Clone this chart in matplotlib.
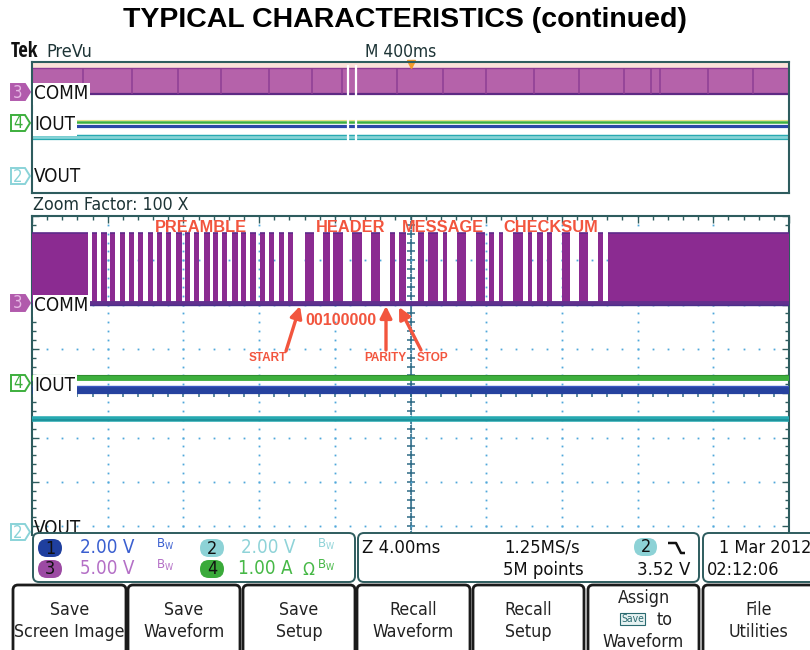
import matplotlib
matplotlib.use('Agg')
import matplotlib.pyplot as plt
from matplotlib import font_manager as fm
from matplotlib.font_manager import FontProperties
from matplotlib.patches import FancyBboxPatch, Polygon
from matplotlib.transforms import Bbox, IdentityTransform, TransformedBbox
import numpy as np

# ---------------- data ----------------
title = "TYPICAL CHARACTERISTICS (continued)"
zoom_ms_per_div = 4.0          # Z 4.00ms
overview_s_per_div = 0.4       # M 400ms
n_hdiv = 10

# COMM (ch3) high bursts in the 100x zoom window, ms from left edge
comm_high_start = [0.00, 3.17, 3.65, 4.12, 4.65, 5.12, 5.60, 6.13, 6.60, 7.08, 7.61,
                   8.08, 8.56, 9.09, 9.56, 10.04, 10.57, 11.04, 11.52, 12.04, 12.52,
                   13.05, 13.52, 14.42, 15.37, 15.90, 16.90, 17.91, 18.91, 19.39,
                   20.39, 20.92, 21.71, 22.45, 23.45, 24.14, 24.67, 25.41, 26.20,
                   26.68, 27.21, 28.00, 28.90, 29.90, 30.43]
comm_high_end = [2.96, 3.46, 3.94, 4.41, 4.94, 5.41, 5.89, 6.42, 6.89, 7.37, 7.90,
                 8.37, 8.85, 9.38, 9.85, 10.33, 10.86, 11.33, 11.81, 12.33, 12.81,
                 13.34, 13.81, 14.90, 15.74, 16.43, 17.43, 18.38, 19.18, 19.76,
                 20.71, 21.45, 21.92, 22.93, 23.93, 24.41, 24.88, 25.94, 26.41,
                 26.99, 27.47, 28.42, 29.37, 30.16, 40.00]

# trace levels (graticule divisions from centre)
comm_low_div = 2.04
comm_high_div = 3.62
iout_div = 0.35
ch1_div = 0.07
vout_div = -0.58

# message bursts visible in the 4 s overview record, s
overview_msg_s = [0.27, 0.53, 0.77, 1.00, 1.25, 1.48, 1.64, 1.93, 2.17, 2.40,
                  2.65, 2.89, 3.13, 3.27, 3.32, 3.57, 3.81]
zoom_window_s = [1.67, 1.71]

# annotations
frame_fields = ["PREAMBLE", "HEADER", "MESSAGE", "CHECKSUM"]
header_bits = "00100000"
bit_marks = ["START", "PARITY", "STOP"]

# readouts
ch_ids = ["1", "2", "3", "4"]
ch_scales = ["2.00 V", "2.00 V", "5.00 V", "1.00 A"]
timebase = "Z 4.00ms"
sample_rate = "1.25MS/s"
record_len = "5M points"
trig_ch = "2"
trig_level = "3.52 V"
date_txt = "1 Mar 2012"
time_txt = "02:12:06"
button_labels = ["Save\nScreen Image", "Save\nWaveform", "Save\nSetup",
                 "Recall\nWaveform", "Recall\nSetup", "Assign\nSave|to\nWaveform",
                 "File\nUtilities"]

# ---------------- fonts ----------------
W, H = 810, 650
names = {f.name for f in fm.fontManager.ttflist}


def pick_condensed(bold=False):
    best, best_score = None, -1
    for f in fm.fontManager.ttflist:
        key = (f.name + ' ' + f.fname).lower()
        if not ('narrow' in key or 'condensed' in key):
            continue
        if any(w in key for w in ('semicondensed', 'semi-condensed', 'extracondensed',
                                  'extra-condensed', 'ultracondensed', 'italic', 'oblique',
                                  'mono', 'serif')):
            continue
        w = f.weight if isinstance(f.weight, int) else (700 if 'bold' in str(f.weight) else 400)
        if bold and w < 600:
            continue
        if not bold and w != 400:
            continue
        score = 1
        if 'sans' in key:
            score += 2
        if 'liberation' in key or 'roboto' in key or 'open' in key:
            score += 1
        if score > best_score:
            best, best_score = f.fname, score
    return best


cond_path = pick_condensed()
condb_path = pick_condensed(bold=True)
if cond_path is None:
    FALLBACK = 'Roboto' if 'Roboto' in names else 'DejaVu Sans'
    SCALE = 0.9
else:
    FALLBACK = None
    SCALE = 1.0
BOLD = 'Liberation Sans' if 'Liberation Sans' in names else 'DejaVu Sans'


def cfont(size, bold=False):
    if cond_path is not None:
        p = condb_path if (bold and condb_path) else cond_path
        fp = FontProperties(fname=p, size=size * SCALE)
        if bold and not condb_path:
            fp.set_weight('bold')
        return fp
    return FontProperties(family=FALLBACK, size=size * SCALE,
                          weight='bold' if bold else 'normal')


# ---------------- styling ----------------
border = '#2e5c5e'
dotc = '#4fa8da'
tickc = '#2f6b86'
purple_zoom = '#8b2b91'
purple_ov = '#b562aa'
red = '#f2553e'
green = '#3daf3d'
blue = '#26429f'
cyan = '#27a9b1'

fig = plt.figure(figsize=(W / 100, H / 100), dpi=100)
fig.patch.set_facecolor('white')


def px_axes(x0, y0, x1, y1):
    return fig.add_axes([x0 / W, 1 - y1 / H, (x1 - x0) / W, (y1 - y0) / H])


# ---------------- overview panel ----------------
ov = px_axes(32, 62, 789, 193)
ov_t = n_hdiv * overview_s_per_div
ov.set_xlim(0, ov_t)
ov.set_ylim(-4, 4)
ov.set_xticks([]); ov.set_yticks([])
for s in ov.spines.values():
    s.set_color(border); s.set_linewidth(1.5)
ov.axhspan(3.65, 3.93, color='#fbe1d9', lw=0)
ov.fill_between([0, ov_t], comm_low_div, comm_high_div, color=purple_ov, lw=0)
ov.hlines(comm_high_div, 0, ov_t, color='#8d3a95', lw=1.0)
ov.hlines(comm_low_div, 0, ov_t, color='#5e2a84', lw=1.6)
ov.vlines(overview_msg_s, comm_low_div, comm_high_div, color='#8a3b92', lw=1.2, alpha=0.85)
ov.hlines(iout_div + 0.12, 0, ov_t, color='#e9e28a', lw=0.8)
ov.hlines(iout_div, 0, ov_t, color=green, lw=1.8)
ov.hlines(ch1_div, 0, ov_t, color='#2b49a8', lw=2.3)
ov.hlines(vout_div, 0, ov_t, color='#86d3d6', lw=3.2)
ov.hlines([vout_div + 0.11, vout_div - 0.11], 0, ov_t, color=cyan, lw=0.9)
ov.vlines(zoom_window_s, -0.8, 3.8, color='white', lw=1.6)
ov.plot(ov_t / 2, 3.9, marker='v', color='#f39a2a', ms=6, clip_on=False)

# ---------------- zoom panel ----------------
zx = px_axes(32, 216, 789, 535)
z_t = n_hdiv * zoom_ms_per_div
zx.set_xlim(0, z_t)
zx.set_ylim(4 - (535 - 216) / 44.5, 4)
for k, s in zx.spines.items():
    s.set_color(border); s.set_linewidth(1.5)
zx.spines['bottom'].set_visible(False)
zx.set_xticks(np.arange(0, z_t + 0.01, zoom_ms_per_div))
zx.set_xticks(np.arange(0, z_t + 0.01, zoom_ms_per_div / 5), minor=True)
zx.set_yticks(np.arange(-3, 4.01, 1))
zx.set_yticks(np.arange(-3.2, 4.01, 0.2), minor=True)
zx.tick_params(which='both', direction='in', top=True, bottom=False, left=True, right=True,
               labelleft=False, labelbottom=False, color=border, width=1)
zx.tick_params(which='major', length=5)
zx.tick_params(which='minor', length=3)

minor_x = np.arange(0, z_t + 0.01, zoom_ms_per_div / 5)
minor_y = np.arange(-3.2, 4.01, 0.2)
for k in range(1, n_hdiv):
    xv = k * zoom_ms_per_div
    if k == n_hdiv // 2:
        zx.plot(np.full_like(minor_y, xv), minor_y, ls='none', marker='+', ms=6, mew=1.1,
                color=tickc, zorder=1)
        zx.axvline(xv, color='#9cc6dc', lw=0.8, zorder=0.5)
    else:
        zx.plot(np.full_like(minor_y, xv), minor_y, ls='none', marker='s', ms=1.3, mew=0,
                color=dotc, zorder=1)
for yv in [-3, -2, -1, 1, 2, 3]:
    zx.plot(minor_x, np.full_like(minor_x, yv), ls='none', marker='s', ms=1.3, mew=0,
            color=dotc, zorder=1)
zx.plot(minor_x, np.zeros_like(minor_x), ls='none', marker='+', ms=6, mew=1.1,
        color=tickc, zorder=1)

starts = np.array(comm_high_start)
ends = np.array(comm_high_end)
zx.bar(starts, comm_high_div - comm_low_div, width=ends - starts, bottom=comm_low_div,
       align='edge', color=purple_zoom, lw=0, zorder=3)
zx.hlines(np.full_like(starts, comm_high_div), starts, ends, color='#5d2a8a', lw=1.2, zorder=3)
zx.hlines(comm_low_div, 0, z_t, color='#62308e', lw=3.5, zorder=3)
zx.hlines(comm_low_div - 0.05, 0, z_t, color='#4a2f8a', lw=1.0, zorder=3)

zx.hlines(iout_div, 0, z_t, color=green, lw=4.2, zorder=3)
zx.hlines(iout_div + 0.07, 0, z_t, color='#2f8f2f', lw=0.8, zorder=3)
zx.hlines(ch1_div, 0, z_t, color=blue, lw=5.2, zorder=3)
zx.hlines(ch1_div + 0.09, 0, z_t, color='#3a58c0', lw=1.0, zorder=3)
zx.hlines(vout_div, 0, z_t, color=cyan, lw=4.0, zorder=3)
zx.hlines(vout_div - 0.03, 0, z_t, color='#1d8f98', lw=1.2, zorder=3)

# ---------------- overlay (texts, labels, readouts, buttons) ----------------
oa = fig.add_axes([0, 0, 1, 1])
oa.set_xlim(0, W); oa.set_ylim(H, 0)
oa.axis('off')
oa.set_zorder(10)
oa.patch.set_visible(False)


def T(x, y, s, size, bold=False, **kw):
    kw.setdefault('va', 'baseline')
    return oa.text(x, y, s, fontproperties=cfont(size, bold), **kw)


oa.text(405, 27, title, ha='center', va='baseline', fontsize=20.5, fontweight='bold',
        family=BOLD, color='black')
T(11, 57, "Tek", 15, bold=True, ha='left', color='#111')
T(46, 57, "PreVu", 13, ha='left', color='#1d3436')
T(401, 57, "M 400ms", 12.5, ha='center', color='#1d3436')
T(33, 210, "Zoom Factor: 100 X", 12.7, ha='left', color='#1d3436')


def badge(x, y, n, fc, ec, tc, z=11):
    poly = Polygon([(x, y - 8), (x + 14, y - 8), (x + 19, y), (x + 14, y + 8), (x, y + 8)],
                   closed=True, fc=fc, ec=ec, lw=1.4, zorder=z)
    oa.add_patch(poly)
    T(x + 7, y + 0.5, n, 12, ha='center', va='center', color=tc, zorder=z)


def chlabel(x, yb, s, bg=True, z=11):
    kw = dict(ha='left', color='#111', zorder=z)
    if bg:
        kw['bbox'] = dict(boxstyle='square,pad=0.08', fc='white', ec='none')
    return T(x, yb, s, 13.5, **kw)


# overview channel labels
badge(11, 92, "3", '#b15aac', '#b15aac', '#e6b8e4')
chlabel(34, 99, "COMM")
badge(11, 123, "4", 'white', green, green)
chlabel(34, 130, "IOUT")
badge(11, 176, "2", 'white', '#8ad3d8', '#8ad3d8')
chlabel(34, 182, "VOUT", bg=False)
# zoom channel labels
badge(11, 303, "3", '#b15aac', '#b15aac', '#e6b8e4')
chlabel(34, 311, "COMM")
badge(11, 383, "4", 'white', green, green)
chlabel(34, 391, "IOUT")
badge(11, 532, "2", 'white', '#8ad3d8', '#8ad3d8', z=10)
vt = chlabel(34, 534, "VOUT", bg=False, z=10)
# only the top of this label shows above the readout panel (as in the screenshot)
vt.set_clip_box(TransformedBbox(Bbox([[0, H - 533], [W, H]]), IdentityTransform()))
vt.set_clip_on(True)

# frame annotations
for name, xc in zip(frame_fields, [201, 351, 443, 551]):
    oa.text(xc, 232, name, ha='center', va='baseline', fontsize=11.8, fontweight='bold',
            family=BOLD, color=red)
oa.text(341, 325, header_bits, ha='center', va='baseline', fontsize=11.5, fontweight='bold',
        family=BOLD, color=red)
for name, xc in zip(bit_marks, [268, 385, 432]):
    oa.text(xc, 361, name, ha='center', va='baseline', fontsize=8.5, fontweight='bold',
            family=BOLD, color=red)
for (x0, y0), (x1, y1) in [((286, 351), (300, 306)), ((386, 350), (386, 306)),
                           ((421, 350), (399, 307))]:
    oa.annotate('', xy=(x1, y1), xytext=(x0, y0),
                arrowprops=dict(arrowstyle='-|>,head_length=0.7,head_width=0.35',
                                lw=2.4, color=red, shrinkA=0, shrinkB=0))

# readout boxes
for (x0, x1) in [(33, 355), (358, 699), (703, 830)]:
    oa.add_patch(FancyBboxPatch((x0, 533), x1 - x0, 49,
                                boxstyle='round,pad=0,rounding_size=6',
                                fc='white', ec=border, lw=1.4, zorder=11))

pill_fc = ['#1f3f9e', '#8dd2d6', '#9c4aa3', '#3aaa3a']
txt_c = ['#3a5fd0', '#8fd3d8', '#b46fc6', '#46b846']
pill_xy = [(50, 548), (212, 548), (50, 569), (212, 569)]
txt_x = [80, 241, 80, 238]
bw_x = [156, 317, 156, 317]
for cid, sc, (px, py), fc, tc, tx, bx in zip(ch_ids, ch_scales, pill_xy, pill_fc, txt_c,
                                            txt_x, bw_x):
    oa.add_patch(FancyBboxPatch((px - 12, py - 9), 24, 18,
                                boxstyle='round,pad=0,rounding_size=9',
                                fc=fc, ec='none', zorder=12))
    T(px, py + 0.5, cid, 13, ha='center', va='center', color='#111', zorder=13)
    T(tx, py + 5, sc, 13.5, ha='left', color=tc, zorder=13)
    oa.text(bx, py, r'$\mathregular{B_W}$', fontsize=8.5, ha='left', va='baseline',
            color=tc, zorder=13)
T(302, 575, "\u03a9", 12.5, ha='left', color=txt_c[3], zorder=13)

T(362, 553, timebase, 13.2, ha='left', color='#111', zorder=13)
T(542, 553, sample_rate, 13.2, ha='center', color='#111', zorder=13)
T(543, 575, record_len, 13.2, ha='center', color='#111', zorder=13)
oa.add_patch(FancyBboxPatch((634, 538), 23, 18, boxstyle='round,pad=0,rounding_size=9',
                            fc='#8dd2d6', ec='none', zorder=12))
T(645.5, 547.5, trig_ch, 13, ha='center', va='center', color='#111', zorder=13)
oa.plot([668, 676, 681, 685], [543, 543, 553, 553], color='#111', lw=1.8, zorder=13,
        solid_capstyle='butt')
T(690, 575, trig_level, 13.2, ha='right', color='#111', zorder=13)
T(719, 553, date_txt, 13, ha='left', color='#111', zorder=13)
T(707, 575, time_txt, 13, ha='left', color='#111', zorder=13)

# soft-key buttons
btn_x = [(13, 126), (128, 240), (243, 355), (357, 470), (473, 584), (588, 699), (703, 815)]
for (x0, x1), lab in zip(btn_x, button_labels):
    oa.add_patch(FancyBboxPatch((x0, 585), x1 - x0, 80,
                                boxstyle='round,pad=0,rounding_size=5',
                                fc='white', ec='#1b1b1b', lw=2.0, zorder=11))
    xc = (x0 + x1) / 2
    lines = lab.split("\n")
    ys = [615, 637] if len(lines) == 2 else [603, 625, 647]
    for ln, yb in zip(lines, ys):
        if "|" in ln:
            key, rest = ln.split("|")
            # small key glyph followed by the word
            T(xc - 11, yb - 3, key, 7.5, ha='center', color='#2a6a70', zorder=14,
              bbox=dict(boxstyle='square,pad=0.12', fc='#e6f2f2', ec='#2a6a70', lw=0.8))
            T(xc + 13, yb, rest, 12.8, ha='left', color='#222', zorder=13)
        else:
            T(xc, yb, ln, 12.8, ha='center', color='#222', zorder=13)

fig.savefig('out.png', dpi=100, facecolor='white')
